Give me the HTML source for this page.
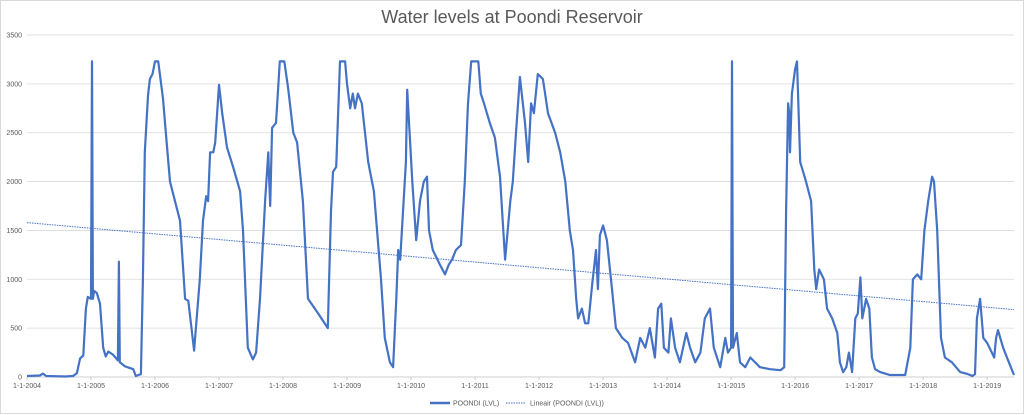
<!DOCTYPE html>
<html><head><meta charset="utf-8"><style>
html,body{margin:0;padding:0;background:#fff;}
svg{display:block;font-family:"Liberation Sans",sans-serif;}
</style></head><body>
<svg id="chart" width="1024" height="415" viewBox="0 0 1024 415">
<rect x="0.5" y="0.5" width="1023" height="413" fill="#fff" stroke="#d9d9d9"/>
<text x="512" y="23" text-anchor="middle" font-size="18" fill="#595959">Water levels at Poondi Reservoir</text>
<g id="grid"></g><g id="ylab"></g><g id="xlab"></g><g id="series"></g>
<g>
<line x1="430" y1="403" x2="450" y2="403" stroke="#4472c4" stroke-width="2.5"/>
<text x="453" y="405.5" font-size="7" fill="#595959">POONDI (LVL)</text>
<line x1="506" y1="403" x2="526" y2="403" stroke="#4472c4" stroke-width="1" stroke-dasharray="1.5,1"/>
<text x="530" y="405.5" font-size="7" fill="#595959">Lineair (POONDI (LVL))</text>
</g>
</svg>
<script>
const yTicks=[0,500,1000,1500,2000,2500,3000,3500];
const xTickYears=[2004,2005,2006,2007,2008,2009,2010,2011,2012,2013,2014,2015,2016,2017,2018,2019];
const years=[2004.00,2004.2,2004.25,2004.3,2004.6,2004.72,2004.78,2004.83,2004.88,2004.92,2004.95,2005.0,2005.015,2005.03,2005.05,2005.09,2005.14,2005.19,2005.23,2005.27,2005.34,2005.42,2005.435,2005.45,2005.53,2005.66,2005.70,2005.78,2005.81,2005.84,2005.89,2005.92,2005.96,2006.0,2006.05,
2006.125,2006.156,2006.234,2006.39,2006.47,2006.52,2006.61,2006.70,2006.75,2006.80,2006.83,2006.86,2006.91,2006.94,2007.00,2007.05,2007.125,2007.22,2007.33,2007.375,2007.45,2007.53,2007.58,2007.64,2007.72,2007.77,2007.78,2007.80,2007.83,2007.89,2007.95,2008.02,2008.08,2008.16,2008.22,2008.31,2008.39,2008.55,2008.70,2008.75,2008.78,2008.83,2008.89,2008.97,2009.00,2009.05,2009.09,2009.125,2009.17,2009.23,2009.33,2009.42,2009.53,2009.59,2009.67,2009.72,2009.77,2009.80,2009.83,2009.92,2009.94,2010.02,2010.08,2010.14,2010.20,2010.25,2010.28,2010.34,2010.45,2010.53,2010.59,2010.64,2010.70,2010.78,2010.84,2010.89,2010.94,2011.05,2011.09,2011.14,2011.23,2011.31,2011.39,2011.47,2011.55,2011.59,2011.64,2011.70,2011.78,2011.83,2011.875,2011.92,2011.98,2012.06,2012.14,2012.25,2012.33,2012.41,2012.48,2012.53,2012.58,2012.61,2012.67,2012.72,2012.77,2012.83,2012.89,2012.92,2012.95,2013.00,2013.06,2013.14,2013.20,2013.30,2013.39,2013.50,2013.58,2013.66,2013.73,2013.81,2013.86,2013.91,2013.95,2014.02,2014.06,2014.125,2014.20,2014.30,2014.36,2014.44,2014.52,2014.59,2014.67,2014.73,2014.83,2014.91,2014.95,2015.00,2015.015,2015.03,2015.09,2015.14,2015.22,2015.30,2015.45,2015.61,2015.77,2015.83,2015.86,2015.89,2015.91,2015.92,2015.95,2016.00,2016.03,2016.08,2016.17,2016.25,2016.30,2016.33,2016.375,2016.45,2016.5,2016.58,2016.66,2016.70,2016.75,2016.80,2016.84,2016.89,2016.94,2016.98,2017.02,2017.05,2017.11,2017.16,2017.20,2017.25,2017.33,2017.48,2017.72,2017.80,2017.84,2017.91,2017.97,2018.02,2018.08,2018.14,2018.17,2018.22,2018.28,2018.34,2018.45,2018.58,2018.70,2018.77,2018.81,2018.84,2018.89,2018.94,2019.00,2019.11,2019.14,2019.17,2019.25,2019.34,2019.42];
const levels=[10,15,35,10,5,10,40,190,220,700,820,800,3230,800,880,860,750,300,210,260,230,170,1180,150,110,80,10,30,1000,2300,2880,3050,3100,3230,3230,
2850,2600,2000,1600,800,780,270,1000,1600,1850,1800,2300,2300,2400,2990,2700,2350,2150,1900,1500,300,180,250,800,1800,2300,2100,1750,2550,2600,3230,3230,2950,2500,2400,1800,800,650,500,1700,2100,2150,3230,3230,3000,2750,2900,2750,2900,2800,2200,1900,1000,400,150,100,800,1300,1200,2200,2940,2000,1400,1800,2000,2050,1500,1300,1150,1050,1150,1200,1300,1350,2000,2800,3230,3230,2900,2800,2600,2450,2050,1200,1800,2000,2500,3070,2600,2200,2800,2700,3100,3050,2700,2500,2300,2000,1500,1300,800,600,700,550,550,950,1300,900,1450,1550,1400,900,500,400,350,150,400,300,500,200,700,750,300,250,600,300,150,450,300,150,250,600,700,300,100,400,250,300,3230,300,450,150,100,200,100,80,70,100,1700,2800,2700,2300,2900,3150,3230,2200,2000,1800,1100,900,1100,1000,700,600,450,150,50,100,250,50,600,650,1020,600,800,700,200,80,50,20,20,300,1000,1050,1000,1500,1800,2050,2000,1500,400,200,150,50,30,10,30,600,800,400,350,200,400,480,300,150,20];
const trendStartValue=1580, trendEndValue=690;

const NS="http://www.w3.org/2000/svg";
const x0=27,x1=1014,yMin=0,yMax=3500,py0=377,py1=35,tMin=2004,tMax=2019.42;
const xs=t=>x0+(t-tMin)/(tMax-tMin)*(x1-x0);
const ys=v=>py0-(v-yMin)/(yMax-yMin)*(py0-py1);
function mk(tag,attrs,parent){const e=document.createElementNS(NS,tag);for(const k in attrs)e.setAttribute(k,attrs[k]);parent.appendChild(e);return e;}
const grid=document.getElementById('grid'),ylab=document.getElementById('ylab'),xlab=document.getElementById('xlab'),ser=document.getElementById('series');
yTicks.forEach(v=>{
 const l=mk('line',{x1:x0,x2:x1,y1:ys(v),y2:ys(v),stroke:v===0?'#bfbfbf':'#d9d9d9','stroke-width':0.8},grid);
 
 
 const t=mk('text',{x:22,y:ys(v)+2.5,'text-anchor':'end','font-size':7,fill:'#595959'},ylab);
 t.textContent=v;
 
 
});
xTickYears.forEach(y=>{
 const tk=mk('line',{x1:xs(y),x2:xs(y),y1:py0,y2:py0+3,stroke:'#bfbfbf','stroke-width':0.8},grid);
 
 
 const t=mk('text',{x:xs(y),y:388,'text-anchor':'middle','font-size':7,fill:'#595959'},xlab);
 t.textContent='1-1-'+y;
 
 
});
const tr=mk('line',{x1:xs(tMin),y1:ys(trendStartValue),x2:xs(tMax),y2:ys(trendEndValue),stroke:'#4472c4','stroke-width':1,'stroke-dasharray':'1.5,1'},ser);


const d=years.map((t,i)=>(i?'L':'M')+xs(t).toFixed(1)+','+ys(levels[i]).toFixed(1)).join(' ');
const p=mk('path',{d:d,fill:'none',stroke:'#4472c4','stroke-width':2.2,'stroke-linejoin':'round'},ser);


</script>
</body></html>
